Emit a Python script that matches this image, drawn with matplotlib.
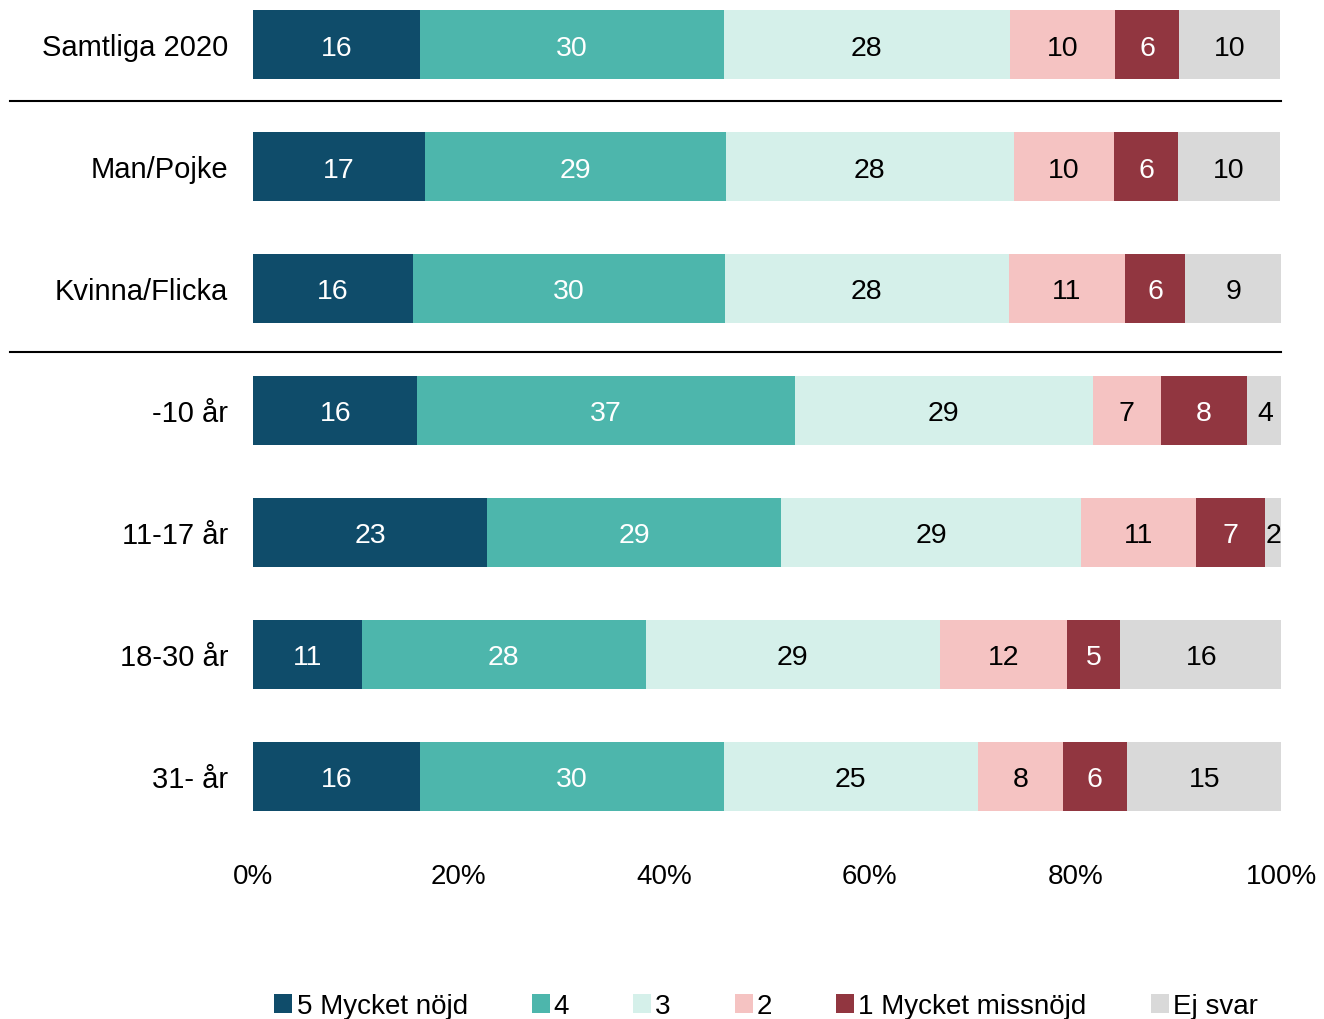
import matplotlib
matplotlib.use("Agg")
import matplotlib.pyplot as plt
from matplotlib.patches import Patch

plt.rcParams['font.family'] = ['Liberation Sans', 'DejaVu Sans']

# rows, top to bottom
groups = ['Samtliga 2020', 'Man/Pojke', 'Kvinna/Flicka', '-10 år', '11-17 år', '18-30 år', '31- år']

# percent per answer
s5 = [16.2, 16.7, 15.6, 16.0, 22.8, 10.6, 16.2]
s4 = [29.6, 29.3, 30.3, 36.7, 28.6, 27.6, 29.6]
s3 = [27.8, 28.0, 27.6, 29.0, 29.1, 28.6, 24.7]
s2 = [10.3, 9.8, 11.3, 6.6, 11.2, 12.4, 8.3]
s1 = [6.2, 6.2, 5.9, 8.4, 6.7, 5.1, 6.2]
ej = [9.8, 9.9, 9.4, 3.6, 1.7, 16.0, 15.1]

series_names = ['5 Mycket nöjd', '4', '3', '2', '1 Mycket missnöjd', 'Ej svar']
colors = ['#0F4C6A', '#4DB6AC', '#D5F0EA', '#F5C3C2', '#913640', '#D9D9D9']
text_colors = ['white', 'white', 'black', 'black', 'white', 'black']

xticks = [0, 20, 40, 60, 80, 100]

fig = plt.figure(figsize=(13.24, 10.2), dpi=100)
ax = fig.add_axes([253 / 1324, 1 - 840 / 1020, (1281 - 253) / 1324, 840 / 1020])

all_series = [s5, s4, s3, s2, s1, ej]
ypos = list(range(len(groups)))
left = [0.0] * len(groups)
for vals, col, tcol in zip(all_series, colors, text_colors):
    ax.barh(ypos, vals, left=left, height=0.566, color=col, edgecolor='none')
    for y, l, v in zip(ypos, left, vals):
        ax.text(l + v / 2, y, f"{round(v)}", ha='center', va='center_baseline',
                fontsize=20.5, color=tcol)
    left = [a + b for a, b in zip(left, vals)]

ax.set_xlim(0, 100)
ax.set_ylim((840 - 45.5) / 122, -45.5 / 122)
ax.set_yticks(ypos)
ax.set_yticklabels(groups, fontsize=21)
ax.set_xticks(xticks)
ax.set_xticklabels([f"{t}%" for t in xticks], fontsize=20)
ax.tick_params(axis='y', length=0, pad=18)
ax.tick_params(axis='x', length=0, pad=17)
for sp in ax.spines.values():
    sp.set_visible(False)

# separator lines after the total and after the gender rows
for ysep in [0.463, 2.52]:
    ax.plot([-23.6, 100], [ysep, ysep], color='black', lw=1.5, clip_on=False)

handles = [Patch(facecolor=c, edgecolor='none', label=n) for c, n in zip(colors, series_names)]
fig.legend(handles=handles, loc='center', bbox_to_anchor=(766 / 1324, 1 - 1007 / 1020),
           ncol=6, frameon=False, handlelength=0.65, handleheight=0.65,
           handletextpad=0.15, columnspacing=2.3,
           prop={'size': 20})

fig.savefig('out.png', dpi=100)
